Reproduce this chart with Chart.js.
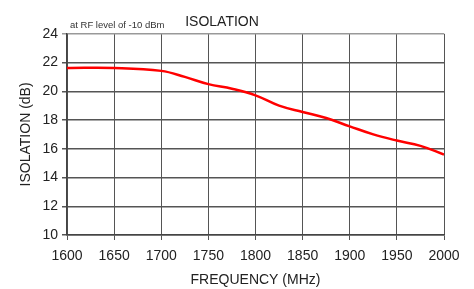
<!DOCTYPE html>
<html>
<head>
<meta charset="utf-8">
<script src="https://cdn.jsdelivr.net/npm/chart.js@4/dist/chart.umd.min.js"></script>
<style>
  html, body { margin: 0; padding: 0; background: #fff; }
  #wrap { width: 474px; height: 289px; }
</style>
</head>
<body>
<div id="wrap"><canvas id="isoCanvas" width="474" height="289"></canvas></div>
<script>
const freqs = [1600, 1650, 1700, 1725, 1750, 1775, 1800, 1825, 1850, 1875, 1900, 1925, 1950, 1975, 2000];
const isolation = [21.62, 21.62, 21.42, 21.0, 20.5, 20.18, 19.72, 19.0, 18.56, 18.14, 17.56, 17.0, 16.57, 16.2, 15.6];
const xTicks = [1600, 1650, 1700, 1750, 1800, 1850, 1900, 1950, 2000];
const yTicks = [10, 12, 14, 16, 18, 20, 22, 24];

const fontFamily = "'Liberation Sans', Arial, sans-serif";

// small note in the top left corner
const notePlugin = {
    id: "note",
    afterDraw(chart) {
        const ctx = chart.ctx;
        ctx.save();
        ctx.font = "9.5px " + fontFamily;
        ctx.fillStyle = "#333";
        ctx.textBaseline = "middle";
        ctx.fillText("at RF level of -10 dBm", 70, 25);
        ctx.restore();
    }
};

const isoCanvas = document.getElementById("isoCanvas");
const isoChart = new Chart(isoCanvas, {
    type: "line",
    data: {
        datasets: [{
            label: "Isolation",
            data: freqs.map((f, i) => ({ x: f, y: isolation[i] })),
            borderColor: "#ff0000",
            borderWidth: 2.5,
            pointRadius: 0,
            tension: 0.4,
            fill: false
        }]
    },
    options: {
        responsive: false,
        animation: false,
        layout: { padding: { left: 0, right: 30, top: 0, bottom: 0 } },
        plugins: {
            legend: { display: false },
            tooltip: { enabled: false },
            title: {
                display: true,
                text: "ISOLATION",
                color: "#222",
                font: { family: fontFamily, size: 14, weight: "normal" },
                padding: { top: 14, bottom: 3 }
            }
        },
        scales: {
            x: {
                type: "linear",
                min: 1600,
                max: 2000,
                afterBuildTicks: (scale) => { scale.ticks = xTicks.map(v => ({ value: v })); },
                afterFit: (scale) => { scale.height = 54; },
                grid: { color: "#555", lineWidth: 1, tickLength: 5, drawTicks: true },
                border: { color: "#444", width: 1.5 },
                ticks: {
                    color: "#222",
                    padding: 8,
                    maxRotation: 0,
                    callback: (v) => String(v),
                    font: { family: fontFamily, size: 14 }
                },
                title: {
                    display: true,
                    text: "FREQUENCY (MHz)",
                    color: "#222",
                    font: { family: fontFamily, size: 14 },
                    padding: { top: 0, bottom: 0 }
                }
            },
            y: {
                min: 10,
                max: 24,
                afterBuildTicks: (scale) => { scale.ticks = yTicks.map(v => ({ value: v })); },
                afterFit: (scale) => { scale.width = 67; },
                grid: {
                    color: (c) => c.tick && c.tick.value === 24 ? "#999" : "#555",
                    lineWidth: 1.5,
                    tickLength: 5,
                    drawTicks: true
                },
                border: { color: "#444", width: 1.5 },
                ticks: {
                    color: "#222",
                    padding: 4,
                    font: { family: fontFamily, size: 14 }
                },
                title: {
                    display: true,
                    text: "ISOLATION (dB)",
                    color: "#222",
                    font: { family: fontFamily, size: 14 },
                    padding: { top: 18, bottom: 0 }
                }
            }
        }
    },
    plugins: [notePlugin]
});
</script>
</body>
</html>
